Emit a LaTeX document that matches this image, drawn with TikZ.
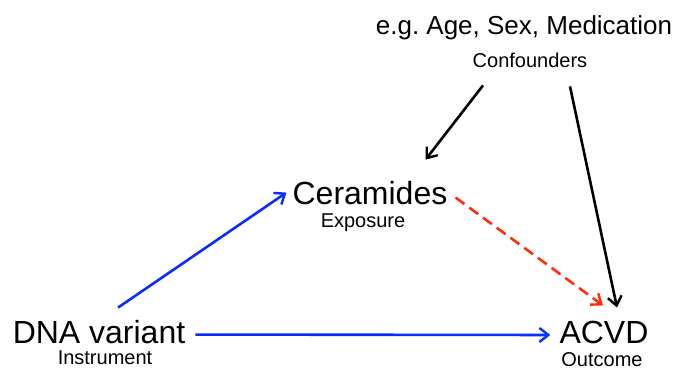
\documentclass[tikz,border=0pt]{standalone}
\usepackage{fontspec}
\setmainfont{Liberation Sans}
\usepackage{tikz}
\usetikzlibrary{arrows.meta, positioning}
\definecolor{arrblue}{RGB}{10,45,255}
\definecolor{arrred}{RGB}{255,45,10}
\frenchspacing

\begin{document}
\begin{tikzpicture}[x=1pt, y=-1pt,
  biglabel/.style={inner sep=0pt, anchor=base, font=\fontsize{32}{36}\selectfont},
  midlabel/.style={inner sep=0pt, anchor=base, font=\fontsize{26}{30}\selectfont},
  smalllabel/.style={inner sep=0pt, anchor=base, font=\fontsize{20}{24}\selectfont},
  link/.style={line width=2.6pt, -{Straight Barb[length=9pt, width=14pt, line width=2.4pt]}}]
\useasboundingbox (0,0) rectangle (678,369);
% Confounders at the top
\node[midlabel] (eg) at (524,35) {e.g.\ Age, Sex, Medication};
\node[smalllabel] (conf) at (530,68) {Confounders};
%
% Exposure
\node[biglabel] (cer) at (370,204) {Ceramides};
\node[smalllabel] (expo) at (363,227) {Exposure};
%
% Instrument
\node[biglabel] (dna) at (99,343) {DNA variant};
\node[smalllabel] (instr) at (105,364) {Instrument};
%
% Outcome
\node[biglabel] (acvd) at (604,343) {ACVD};
\node[smalllabel] (outc) at (602,366) {Outcome};
%
% Arrows
\draw[link, arrblue] ([xshift=19pt,yshift=12pt]dna.north) -- ([xshift=-6pt]cer.west);
\draw[link, arrblue] ([xshift=10pt,yshift=-3pt]dna.east) -- ([xshift=-9pt,yshift=-3pt]acvd.west);
\draw[link, arrred, dash pattern=on 11pt off 6pt] ([xshift=8pt,yshift=-5pt]cer.east) -- ([xshift=-1pt,yshift=15pt]acvd.north);
\draw[link, black] ([xshift=-47pt,yshift=-17pt]conf.south) -- ([xshift=-22pt,yshift=21pt]cer.north east);
\draw[link, black] ([xshift=40pt,yshift=-18pt]conf.south) -- ([xshift=13pt,yshift=13pt]acvd.north);
\end{tikzpicture}
\end{document}
